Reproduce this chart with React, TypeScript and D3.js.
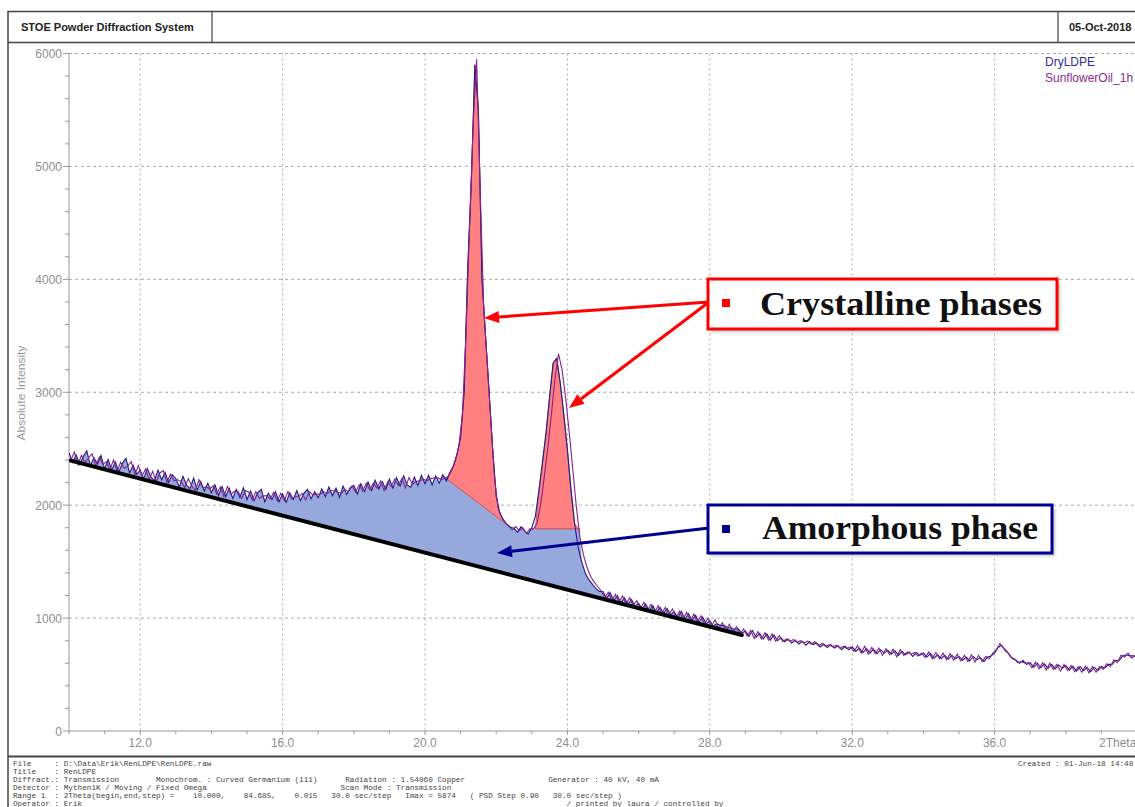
import React from 'react';
import * as d3 from 'd3';

// ---------- data ----------
const STEP = 0.1;
const DRY_START = 10.0;
const DRY_LDPE = [
  2465, 2380, 2445, 2360, 2430, 2480, 2350, 2420, 2365, 2440,
  2320, 2405, 2310, 2385, 2295, 2370, 2415, 2285, 2355, 2275,
  2310, 2235, 2325, 2250, 2215, 2310, 2225, 2290, 2200, 2270,
  2235, 2160, 2255, 2180, 2145, 2240, 2135, 2210, 2125, 2195,
  2110, 2180, 2085, 2165, 2075, 2150, 2060, 2140, 2070, 2155,
  2050, 2125, 2040, 2110, 2140, 2030, 2105, 2050, 2120, 2030,
  2100, 2025, 2110, 2050, 2130, 2040, 2105, 2140, 2055, 2120,
  2065, 2145, 2075, 2160, 2085, 2150, 2070, 2170, 2095, 2155,
  2175, 2100, 2190, 2120, 2205, 2130, 2220, 2145, 2210, 2140,
  2230, 2150, 2245, 2170, 2260, 2180, 2160, 2250, 2175, 2265,
  2190, 2265, 2180, 2260, 2195, 2270, 2215, 2290, 2350, 2450,
  2600, 3000, 4100, 4850, 5900, 5500, 4000, 3500, 3000, 2500,
  2080, 1930, 1870, 1830, 1805, 1795, 1760, 1810, 1770, 1745,
  1800, 1900, 2130, 2380, 2640, 2960, 3260, 3300, 3080, 2800,
  2490, 2140, 1840, 1630, 1500, 1400, 1340, 1300, 1260, 1235,
  1235, 1175, 1225, 1155, 1200, 1135, 1180, 1125, 1165, 1105,
  1130, 1080, 1125, 1065, 1110, 1050, 1095, 1040, 1085, 1030,
  1055, 1005, 1060, 990, 1040, 980, 1025, 965, 1010, 950,
  975, 930, 950, 935, 935, 915, 915, 900, 905, 865,
  885, 840, 890, 830, 865, 815, 860, 805, 850, 800,
  825, 790, 815, 780, 805, 770, 795, 760, 790, 765,
  780, 745, 770, 740, 765, 735, 755, 720, 750, 720,
  745, 705, 735, 695, 730, 690, 725, 685, 720, 690,
  715, 680, 710, 670, 705, 675, 700, 660, 695, 670,
  690, 655, 685, 645, 675, 640, 670, 635, 670, 640,
  660, 625, 655, 620, 660, 630, 650, 615, 655, 665,
  690, 740, 760, 710, 685, 640, 630, 600, 625, 590,
  605, 565, 600, 560, 595, 555, 590, 550, 585, 555,
  580, 540, 575, 530, 570, 535, 565, 525, 565, 535,
  570, 560, 590, 590, 625, 625, 665, 675, 665, 665,
  655,
];
const SUN_START = 10.05;
const SUNFLOWER_1H = [
  2395, 2470, 2360, 2440, 2375, 2420, 2455, 2350, 2425, 2360,
  2385, 2315, 2400, 2295, 2380, 2325, 2345, 2385, 2270, 2350,
  2255, 2320, 2225, 2300, 2205, 2285, 2305, 2200, 2275, 2215,
  2225, 2210, 2155, 2235, 2170, 2130, 2225, 2155, 2160, 2145,
  2170, 2100, 2160, 2075, 2165, 2095, 2125, 2120, 2060, 2130,
  2115, 2045, 2120, 2060, 2080, 2085, 2055, 2115, 2040, 2105,
  2040, 2120, 2055, 2075, 2075, 2105, 2045, 2120, 2090, 2100,
  2095, 2120, 2100, 2130, 2125, 2115, 2105, 2140, 2120, 2170,
  2115, 2180, 2125, 2195, 2135, 2195, 2150, 2215, 2130, 2205,
  2165, 2230, 2175, 2235, 2155, 2245, 2185, 2210, 2215, 2230,
  2215, 2235, 2240, 2245, 2225, 2240, 2250, 2310, 2390, 2520,
  2800, 3500, 4450, 5350, 5950, 4800, 3750, 3250, 2750, 2250,
  1980, 1895, 1845, 1815, 1780, 1810, 1775, 1800, 1750, 1790,
  1790, 1840, 2010, 2250, 2510, 2800, 3120, 3340, 3200, 2950,
  2650, 2320, 1990, 1720, 1560, 1450, 1370, 1320, 1280, 1240,
  1180, 1230, 1155, 1210, 1140, 1195, 1125, 1180, 1110, 1155,
  1080, 1140, 1065, 1120, 1050, 1110, 1040, 1095, 1030, 1080,
  1005, 1060, 990, 1050, 970, 1035, 965, 1020, 950, 1000,
  930, 985, 905, 960, 890, 945, 875, 925, 855, 905,
  840, 890, 820, 880, 815, 870, 805, 860, 795, 845,
  790, 815, 795, 810, 785, 800, 780, 795, 770, 790,
  755, 775, 750, 765, 745, 760, 735, 750, 730, 745,
  705, 755, 690, 750, 680, 740, 685, 735, 670, 730,
  675, 725, 655, 720, 670, 700, 680, 695, 665, 690,
  650, 700, 640, 695, 640, 690, 630, 685, 625, 680,
  620, 670, 615, 675, 610, 670, 615, 660, 640, 690,
  720, 775, 735, 705, 655, 640, 605, 615, 600, 605,
  560, 610, 550, 605, 540, 600, 545, 590, 530, 590,
  535, 580, 525, 570, 520, 575, 515, 570, 520, 570,
  545, 595, 570, 630, 605, 670, 655, 690, 645, 670,
];
const SERIES_NAMES = ['DryLDPE', 'SunflowerOil_1h'];
const Y_TICKS = [0, 1000, 2000, 3000, 4000, 5000, 6000];
const X_TICKS = [12, 16, 20, 24, 28, 32, 36];
const BASELINE: [number, number][] = [[10.05, 2395], [28.9, 850]];
const CRYSTAL_CUT_1: [number, number][] = [[20.6, 2235], [22.4, 1805]];
const CRYSTAL_CUT_2: [number, number][] = [[23.1, 1790], [24.35, 1790]];

const FOOTER_LINES = [
  'File     : D:\\Data\\Erik\\RenLDPE\\RenLDPE.raw',
  'Title    : RenLDPE',
  'Diffract.: Transmission        Monochrom. : Curved Germanium (111)      Radiation : 1.54060 Copper                  Generator : 40 kV, 40 mA',
  'Detector : Mythen1K / Moving / Fixed Omega                             Scan Mode : Transmission',
  'Range 1  : 2Theta(begin,end,step) =    10.000,    84.685,    0.015   30.0 sec/step   Imax = 5874   ( PSD Step 0.90   30.0 sec/step )',
  'Operator : Erik                                                                                                         / printed by laura / controlled by',
];
const CREATED = 'Created : 01-Jun-18 14:48';

// ---------- layout ----------
const W = 1135, H = 807;
const X0 = 69, Y0 = 731, YTOP = 53.5;
const xs = d3.scaleLinear().domain([10, 40]).range([X0, 1137]);
const ys = d3.scaleLinear().domain([0, 6000]).range([Y0, YTOP]);

const lerp = (seg: [number, number][], d: number) =>
  seg[0][1] + (seg[1][1] - seg[0][1]) * (d - seg[0][0]) / (seg[1][0] - seg[0][0]);

const dry: [number, number][] = DRY_LDPE.map((v, i) => [+(DRY_START + i * STEP).toFixed(2), v]);
const sun: [number, number][] = SUNFLOWER_1H.map((v, i) => [+(SUN_START + i * STEP).toFixed(2), v]);

const line = d3.line<[number, number]>().x(d => xs(d[0])).y(d => ys(d[1]));

function amorphTop(d: number, v: number) {
  if (d >= CRYSTAL_CUT_1[0][0] && d <= CRYSTAL_CUT_1[1][0]) return lerp(CRYSTAL_CUT_1, d);
  if (d >= CRYSTAL_CUT_2[0][0] && d <= CRYSTAL_CUT_2[1][0]) return CRYSTAL_CUT_2[0][1];
  return v;
}

const amorphPts = dry.filter(p => p[0] >= BASELINE[0][0] && p[0] <= BASELINE[1][0]);
const amorphPts2: [number, number][] = [
  [BASELINE[0][0], BASELINE[0][1]],
  ...amorphPts,
  [CRYSTAL_CUT_1[0][0], CRYSTAL_CUT_1[0][1]],
  [CRYSTAL_CUT_1[1][0], CRYSTAL_CUT_1[1][1]],
  [CRYSTAL_CUT_2[0][0], CRYSTAL_CUT_2[0][1]],
  [CRYSTAL_CUT_2[1][0], CRYSTAL_CUT_2[1][1]],
  [BASELINE[1][0], BASELINE[1][1]],
].sort((a, b) => a[0] - b[0]) as [number, number][];

const amorphArea = d3.area<[number, number]>()
  .x(d => xs(d[0]))
  .y0(d => ys(lerp(BASELINE, d[0])))
  .y1(d => ys(Math.max(amorphTop(d[0], d[1]), lerp(BASELINE, d[0]))));

function peakPts(cut: [number, number][]) {
  const inner = dry.filter(p => p[0] > cut[0][0] && p[0] < cut[1][0]);
  return [[cut[0][0], cut[0][1]], ...inner, [cut[1][0], cut[1][1]]] as [number, number][];
}
const peakArea = (cut: [number, number][]) => d3.area<[number, number]>()
  .x(d => xs(d[0]))
  .y0(d => ys(lerp(cut, d[0])))
  .y1(d => ys(Math.max(d[1], lerp(cut, d[0]))));

function Arrow({ x1, y1, x2, y2, color }: { x1: number; y1: number; x2: number; y2: number; color: string }) {
  const L = 15, hw = 6;
  const dx = x2 - x1, dy = y2 - y1;
  const len = Math.hypot(dx, dy);
  const ux = dx / len, uy = dy / len;
  const bx = x2 - ux * L, by = y2 - uy * L;
  const px = -uy * hw, py = ux * hw;
  return (
    <g>
      <line x1={x1} y1={y1} x2={bx} y2={by} stroke={color} strokeWidth={3} />
      <polygon points={`${x2},${y2} ${bx + px},${by + py} ${bx - px},${by - py}`} fill={color} />
    </g>
  );
}

export default function App() {
  const grey = '#999';
  const sans = '"Liberation Sans", Arial, sans-serif';
  const yMinor = d3.range(0, 6001, 200);
  const xMinor = d3.range(10, 41, 1);
  return (
    <svg width={W} height={H} style={{ position: 'absolute', left: 0, top: 0, background: '#fff' }}
      xmlns="http://www.w3.org/2000/svg">
      <defs>
        <clipPath id="plot"><rect x={X0} y={44} width={W - X0} height={Y0 - 44} /></clipPath>
        <filter id="shadow" x="-10%" y="-20%" width="130%" height="160%">
          <feGaussianBlur stdDeviation="1.5" />
        </filter>
      </defs>
      <rect x={0} y={0} width={W} height={H} fill="#fff" />

      {/* frame & header */}
      <rect x={8} y={11.5} width={W + 10} height={H + 10} fill="none" stroke="#444" strokeWidth={1.5} />
      <line x1={8} y1={42.5} x2={W} y2={42.5} stroke="#444" strokeWidth={1.5} />
      <line x1={212} y1={11.5} x2={212} y2={42.5} stroke="#444" strokeWidth={1.2} />
      <line x1={1058} y1={11.5} x2={1058} y2={42.5} stroke="#444" strokeWidth={1.2} />
      <text x={21} y={31} fontFamily={sans} fontSize={11} fontWeight="bold" fill="#222">STOE Powder Diffraction System</text>
      <text x={1069} y={31} fontFamily={sans} fontSize={11} fontWeight="bold" fill="#222">05-Oct-2018</text>

      {/* grid */}
      {Y_TICKS.filter(t => t > 0).map(t => (
        <line key={'gy' + t} x1={X0} x2={W} y1={ys(t)} y2={ys(t)} stroke="#aaa" strokeWidth={1} strokeDasharray="3,3" />
      ))}
      {X_TICKS.map(t => (
        <line key={'gx' + t} x1={xs(t)} x2={xs(t)} y1={YTOP} y2={Y0 + 4} stroke="#aaa" strokeWidth={1} strokeDasharray="2,3" />
      ))}

      {/* axes */}
      <line x1={X0} x2={X0} y1={YTOP} y2={Y0} stroke={grey} strokeWidth={1} />
      <line x1={X0} x2={W} y1={Y0} y2={Y0} stroke={grey} strokeWidth={1} />
      {yMinor.map(t => (
        <line key={'my' + t} x1={t % 1000 === 0 ? X0 - 6 : X0 - 4} x2={X0} y1={ys(t)} y2={ys(t)} stroke={grey} strokeWidth={1} />
      ))}
      {xMinor.map(t => (
        <line key={'mx' + t} x1={xs(t)} x2={xs(t)} y1={Y0} y2={Y0 + 3} stroke={grey} strokeWidth={1} />
      ))}
      {Y_TICKS.map(t => (
        <text key={'ly' + t} x={62} y={ys(t) + 4.5} textAnchor="end" fontFamily={sans} fontSize={12} fill="#8e8e8e">{t}</text>
      ))}
      {X_TICKS.map(t => (
        <text key={'lx' + t} x={xs(t)} y={747} textAnchor="middle" fontFamily={sans} fontSize={12} fill="#8e8e8e">{d3.format('.1f')(t)}</text>
      ))}
      <text x={1099} y={747} fontFamily={sans} fontSize={12} fill="#8e8e8e">2Theta</text>
      <text transform="translate(25,393) rotate(-90)" textAnchor="middle" fontFamily={sans} fontSize={11}
        fill="#999" textLength={95} lengthAdjust="spacingAndGlyphs">Absolute Intensity</text>

      {/* fills & series */}
      <g clipPath="url(#plot)">
        <path d={amorphArea(amorphPts2) || ''} fill="#96a8dc" stroke="none" />
        <path d={peakArea(CRYSTAL_CUT_1)(peakPts(CRYSTAL_CUT_1)) || ''} fill="#ff8080" stroke="#c03a3a" strokeWidth={0.8} />
        <path d={peakArea(CRYSTAL_CUT_2)(peakPts(CRYSTAL_CUT_2)) || ''} fill="#ff8080" stroke="#c03a3a" strokeWidth={0.8} />
        <path d={line(dry) || ''} fill="none" stroke="#1d1d85" strokeWidth={1.1} />
        <path d={line(sun) || ''} fill="none" stroke="#8a2188" strokeWidth={1.1} />
        <path d={line(BASELINE) || ''} fill="none" stroke="#000" strokeWidth={4} strokeLinecap="round" />
      </g>

      {/* legend */}
      <text x={1045} y={66} fontFamily={sans} fontSize={12} fill="#2f2f96">{SERIES_NAMES[0]}</text>
      <text x={1045} y={82} fontFamily={sans} fontSize={12} fill="#8e2b8e">{SERIES_NAMES[1]}</text>

      {/* annotations */}
      <Arrow x1={709} y1={302} x2={484} y2={318} color="#ff0000" />
      <Arrow x1={709} y1={302} x2={569} y2={408} color="#ff0000" />
      <Arrow x1={709} y1={528} x2={497} y2={553} color="#00008f" />

      <rect x={711} y={282} width={349} height={50} fill="#888" opacity={0.5} filter="url(#shadow)" />
      <rect x={708} y={279} width={349} height={50} fill="#fff" stroke="#ff0000" strokeWidth={3} />
      <rect x={722} y={299} width={8} height={8} fill="#ff0000" />
      <text x={760} y={315} fontFamily='"Liberation Serif", "DejaVu Serif", serif' fontSize={33} fontWeight="bold"
        fill="#111" textLength={282} lengthAdjust="spacingAndGlyphs">Crystalline phases</text>

      <rect x={711} y={508} width={344} height={48} fill="#888" opacity={0.5} filter="url(#shadow)" />
      <rect x={708} y={505} width={344} height={48} fill="#fff" stroke="#00008f" strokeWidth={3} />
      <rect x={722} y={525} width={8} height={8} fill="#00008f" />
      <text x={762} y={539} fontFamily='"Liberation Serif", "DejaVu Serif", serif' fontSize={33} fontWeight="bold"
        fill="#111" textLength={276} lengthAdjust="spacingAndGlyphs">Amorphous phase</text>

      {/* footer */}
      <line x1={8} y1={756.5} x2={W} y2={756.5} stroke="#444" strokeWidth={2} />
      {FOOTER_LINES.map((s, i) => (
        <text key={'f' + i} x={13} y={766 + i * 8} fontFamily='"Liberation Mono", "DejaVu Sans Mono", monospace'
          fontSize={7.7} fill="#444" style={{ whiteSpace: 'pre' }}>{s}</text>
      ))}
      <text x={1018} y={766} fontFamily='"Liberation Mono", "DejaVu Sans Mono", monospace' fontSize={7.7}
        fill="#444" style={{ whiteSpace: 'pre' }}>{CREATED}</text>
    </svg>
  );
}
